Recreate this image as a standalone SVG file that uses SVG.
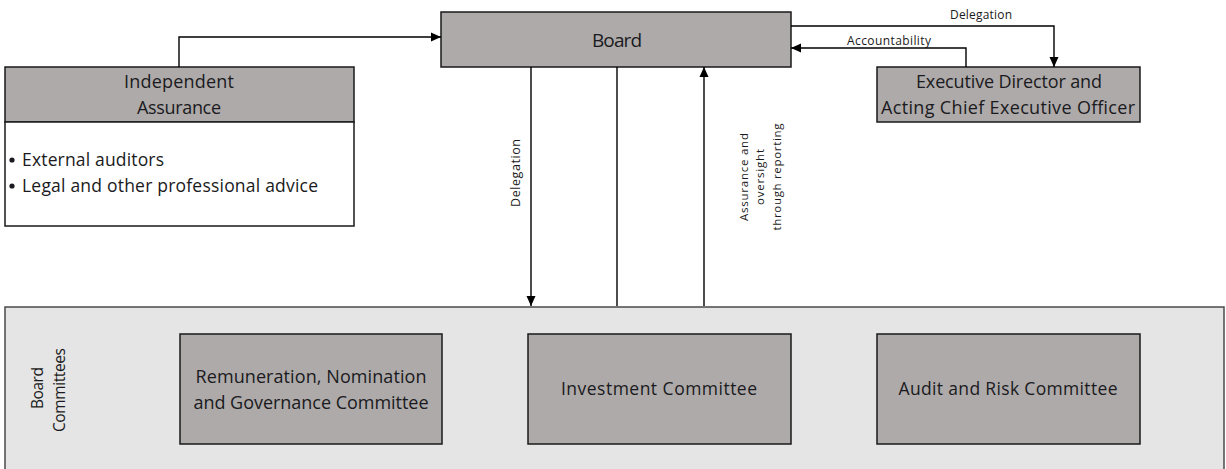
<svg xmlns="http://www.w3.org/2000/svg" width="1226" height="469" viewBox="0 0 1226 469">
<style>
.box{fill:#aeaaaa;stroke:#1a1a1a;stroke-width:1.5}
.wbox{fill:#ffffff;stroke:#1a1a1a;stroke-width:1.5}
.panel{fill:#e5e5e5;stroke:#4a4a4a;stroke-width:1.5}
.t{font-family:"Open Sans","Liberation Sans",sans-serif;fill:#1a1a20}
.c{text-anchor:middle}
.ln{fill:none;stroke:#000;stroke-width:1.4}
.arr{marker-end:url(#ah)}
</style>
<defs>
<marker id="ah" viewBox="0 0 10 10" refX="10" refY="5" markerWidth="10" markerHeight="10" markerUnits="userSpaceOnUse" orient="auto">
<path d="M0,0.5 L10,5 L0,9.5 Z" fill="#000"/>
</marker>
</defs>
<rect x="0" y="0" width="1226" height="469" fill="#ffffff"/>

<g id="board-committees">
<rect class="panel" x="5" y="307" width="1219" height="170"/>
<text class="t c" font-size="15.5" transform="translate(43,388) rotate(-90)" textLength="42">Board</text>
<text class="t c" font-size="15.5" transform="translate(65,390) rotate(-90)" textLength="84">Committees</text>
</g>

<g id="independent-assurance">
<rect class="box" x="5" y="67" width="349" height="55"/>
<rect class="wbox" x="5" y="122" width="349" height="104"/>
<text class="t c" font-size="18" x="179" y="88" textLength="110">Independent</text>
<text class="t c" font-size="18" x="179" y="114" textLength="84">Assurance</text>
<circle cx="12" cy="160" r="2.6" fill="#1a1a20"/>
<text class="t" font-size="17.5" x="22" y="166" textLength="142">External auditors</text>
<circle cx="12" cy="186" r="2.6" fill="#1a1a20"/>
<text class="t" font-size="17.5" x="22" y="192" textLength="296">Legal and other professional advice</text>
</g>

<g id="board">
<rect class="box" x="441" y="12" width="350" height="55"/>
<text class="t c" font-size="19" x="617" y="47" textLength="50">Board</text>
</g>

<g id="executive-director">
<rect class="box" x="877" y="67" width="263" height="55"/>
<text class="t c" font-size="18" x="1009" y="88" textLength="186">Executive Director and</text>
<text class="t c" font-size="18" x="1008" y="114" textLength="254">Acting Chief Executive Officer</text>
</g>

<g id="remuneration-committee">
<rect class="box" x="180" y="334" width="262" height="110"/>
<text class="t c" font-size="18" x="311" y="383" textLength="231">Remuneration, Nomination</text>
<text class="t c" font-size="18" x="311" y="409" textLength="235">and Governance Committee</text>
</g>

<g id="investment-committee">
<rect class="box" x="528" y="334" width="263" height="110"/>
<text class="t c" font-size="17.5" x="659" y="395" textLength="196">Investment Committee</text>
</g>

<g id="audit-committee">
<rect class="box" x="877" y="334" width="263" height="110"/>
<text class="t c" font-size="17.5" x="1008" y="395" textLength="219">Audit and Risk Committee</text>
</g>

<g id="connectors">
<path class="ln arr" d="M179,67 V37 H441"/>
<path class="ln arr" d="M791,26 H1054 V67"/>
<path class="ln arr" d="M966,67 V48 H791"/>
<path class="ln arr" d="M531,67 V306"/>
<path class="ln" d="M617,67 V306"/>
<path class="ln arr" d="M704,306 V67"/>
<text class="t c" font-size="12" x="981" y="19" textLength="62">Delegation</text>
<text class="t c" font-size="12" x="889" y="45" textLength="84">Accountability</text>
<text class="t c" font-size="12.5" transform="translate(520,173) rotate(-90)" textLength="68">Delegation</text>
<text class="t c" font-size="11.5" transform="translate(748,177) rotate(-90)" textLength="88">Assurance and</text>
<text class="t c" font-size="11.5" transform="translate(764,177) rotate(-90)" textLength="56">oversight</text>
<text class="t c" font-size="11.5" transform="translate(781,177) rotate(-90)" textLength="107">through reporting</text>
</g>
</svg>
